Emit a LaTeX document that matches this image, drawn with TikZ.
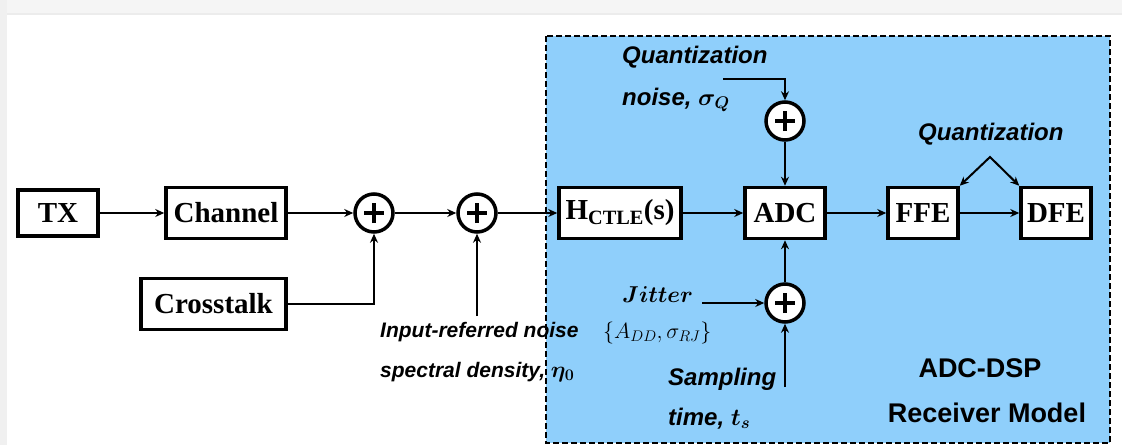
\documentclass[tikz,border=0pt]{standalone}
\usepackage{fix-cm}
\usepackage{amsmath}
\usepackage{amssymb}
\usepackage{fontspec}
\setsansfont{Liberation Sans}
\newfontfamily\boxfont{Liberation Serif}
\usepackage{tikz}
\usetikzlibrary{arrows.meta}
\definecolor{rxblue}{RGB}{143,207,251}

\begin{document}
\begin{tikzpicture}[x=1pt, y=-1pt,
  blk/.style={draw, fill=white, line width=3.5pt, inner sep=0pt, minimum height=51pt,
    font=\boxfont\bfseries\fontsize{29}{31}\selectfont},
  sum/.style={circle, draw, fill=white, line width=3.5pt, minimum size=38pt, inner sep=0pt,
    path picture={\draw[line width=3.5pt]
      ([xshift=-10pt]path picture bounding box.center) -- ([xshift=10pt]path picture bounding box.center)
      ([yshift=-10pt]path picture bounding box.center) -- ([yshift=10pt]path picture bounding box.center);}},
  lbl/.style={anchor=base west, inner sep=0pt, font=\sffamily\bfseries\itshape\fontsize{24}{26}\selectfont\mathversion{bold}},
  sig/.style={line width=2pt, -{Stealth[length=9pt, width=8pt]}}]
  \useasboundingbox (0,0) rectangle (1122,445);
  \fill [gray!8] (0,0) rectangle (1122,13);
  \fill [gray!15] (0,13) rectangle (1122,15);
  \fill [gray!12] (0,0) rectangle (7,445);
  \draw [fill=rxblue, line width=2pt, dash pattern=on 6pt off 3pt] (546,36) rectangle (1110,443);

  \node [blk, minimum width=80pt, minimum height=46pt] (tx) at (58,213) {TX};
  \node [blk, minimum width=120pt] (ch) at (226,213) {Channel};
  \node [blk, minimum width=145pt] (xt) at (213.5,304) {Crosstalk};
  \node [sum] (s1) at (374,213) {};
  \node [sum] (s2) at (477,213) {};
  \node [blk, minimum width=122pt] (ctle) at (620,213) {H\textsubscript{CTLE}(s)};
  \node [blk, minimum width=80pt] (adc) at (785,213) {ADC};
  \node [blk, minimum width=70pt] (ffe) at (923,213) {FFE};
  \node [blk, minimum width=70pt] (dfe) at (1056,213) {DFE};
  \node [sum] (sq) at (785,121) {};
  \node [sum] (sj) at (785,303) {};

  \node [lbl] (qn1) at (622,63) {Quantization};
  \node [lbl] (qn2) at (622,105) {noise, $\sigma_Q$};
  \node [lbl] (qf) at (918,140) {Quantization};
  \node [lbl, font=\fontsize{23}{25}\selectfont\mathversion{bold}] (jit) at (622,302) {$Jitter$};
  \node [lbl, font=\fontsize{22}{24}\selectfont] (jpar) at (603,338) {$\{A_{DD},\sigma_{RJ}\}$};
  \node [lbl] (smp1) at (668,385) {Sampling};
  \node [lbl] (smp2) at (668,425) {time, $t_s$};
  \node [lbl, font=\sffamily\bfseries\itshape\fontsize{21}{23}\selectfont\mathversion{bold}] (nz1) at (380,337) {Input-referred noise};
  \node [lbl, font=\sffamily\bfseries\itshape\fontsize{21}{23}\selectfont\mathversion{bold}] (nz2) at (380,377) {spectral density, {\fontsize{23}{25}\selectfont$\eta_0$}};
  \node [anchor=base, inner sep=0pt, font=\sffamily\bfseries\fontsize{27}{29}\selectfont] (rx1) at (980,377) {ADC-DSP};
  \node [anchor=base, inner sep=0pt, font=\sffamily\bfseries\fontsize{27}{29}\selectfont] (rx2) at (987,422) {Receiver Model};

  \coordinate (qin) at (723,79);
  \coordinate (apex) at (990,157);
  \coordinate (jin) at (702,303);
  \coordinate (sin) at (785,387);
  \coordinate (nin) at (477,316);

  \draw [sig] (tx) -- (ch);
  \draw [sig] (ch) -- (s1);
  \draw [sig] (s1) -- (s2);
  \draw [sig] (s2) -- (ctle);
  \draw [sig] (ctle) -- (adc);
  \draw [sig] (adc) -- (ffe);
  \draw [sig] (ffe) -- (dfe);
  \draw [sig] (xt) -| (s1);
  \draw [sig] (nin) -- (s2);
  \draw [sig] (qin) -| (sq);
  \draw [sig] (sq) -- (adc);
  \draw [sig] (sj) -- (adc);
  \draw [sig] (jin) -- (sj);
  \draw [sig] (sin) -- (sj);
  \draw [sig, {Stealth[length=9pt, width=8pt]}-{Stealth[length=9pt, width=8pt]}] (ffe.north east) -- (apex) -- (dfe.north west);
\end{tikzpicture}
\end{document}
